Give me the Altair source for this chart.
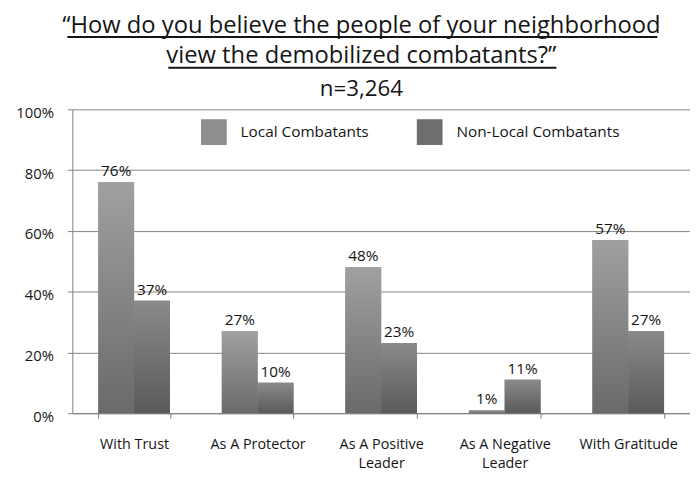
import altair as alt
import pandas as pd

# ---- data ----
CATEGORIES = ["With Trust", "As A Protector", "As A Positive Leader",
              "As A Negative Leader", "With Gratitude"]
SERIES = ["Local Combatants", "Non-Local Combatants"]
LOCAL = [0.76, 0.27, 0.48, 0.01, 0.57]
NON_LOCAL = [0.37, 0.10, 0.23, 0.11, 0.27]
Y_TICKS = [0, 0.2, 0.4, 0.6, 0.8, 1.0]
TITLE_LINES = ["\u201cHow do you believe the people of your neighborhood",
               "view the demobilized combatants?\u201d",
               "n=3,264"]

rows = []
for c, a, b in zip(CATEGORIES, LOCAL, NON_LOCAL):
    rows.append({"category": c, "series": SERIES[0], "value": a})
    rows.append({"category": c, "series": SERIES[1], "value": b})
df = pd.DataFrame(rows)

FONT = "Open Sans"
TEXT = "#151515"
SOLID = ["#8e8e8e", "#6e6e6e"]
GRADS = [("#a0a0a0", "#6a6a6a"), ("#8a8a8a", "#5a5a5a")]

x_enc = alt.X(
    "category:N", sort=CATEGORIES,
    scale=alt.Scale(paddingInner=0.42, paddingOuter=0.21),
    axis=alt.Axis(
        title=None, labelAngle=0, tickBand="extent", tickSize=5, grid=False,
        labelFont=FONT, labelFontSize=14.5, labelColor=TEXT, labelPadding=20,
        labelBaseline="top", labelLineHeight=18.5,
        labelExpr="indexof(datum.label, ' Leader') > 0 ? [replace(datum.label, ' Leader', ''), 'Leader'] : datum.label",
    ),
)
xo_enc = alt.XOffset("series:N", sort=SERIES, scale=alt.Scale(domain=SERIES))
y_enc = alt.Y(
    "value:Q", scale=alt.Scale(domain=[0, 1]),
    axis=alt.Axis(
        title=None, values=Y_TICKS, format=".0%", grid=True, tickSize=5,
        labelFont=FONT, labelFontSize=15, labelColor=TEXT, labelPadding=14,
        labelOffset=3,
    ),
)

base = alt.Chart(df).mark_bar().encode(
    x=x_enc, xOffset=xo_enc, y=y_enc,
    color=alt.Color(
        "series:N", sort=SERIES,
        scale=alt.Scale(domain=SERIES, range=SOLID),
        legend=alt.Legend(
            title=None, orient="none", legendX=130, legendY=10,
            direction="horizontal", symbolType="square", symbolSize=676,
            symbolStrokeWidth=0, symbolOpacity=1, labelFont=FONT,
            labelFontSize=15.5, labelColor=TEXT, columnPadding=48,
            labelOffset=14, padding=0, labelLimit=300,
        ),
    ),
)

grad_layers = []
for s, (top, bottom) in zip(SERIES, GRADS):
    grad_layers.append(
        alt.Chart(df).transform_filter(alt.datum.series == s).mark_bar(
            fill=alt.Gradient(
                gradient="linear",
                stops=[alt.GradientStop(color=top, offset=0),
                       alt.GradientStop(color=bottom, offset=1)],
                x1=0, x2=0, y1=0, y2=1,
            )
        ).encode(x=x_enc, xOffset=xo_enc, y=y_enc)
    )

labels = alt.Chart(df).mark_text(
    font=FONT, fontSize=15.5, color=TEXT, baseline="bottom", dy=-3
).encode(
    x=x_enc, xOffset=xo_enc, y=y_enc,
    text=alt.Text("value:Q", format=".0%"),
)

def title_line(txt, y, size):
    return alt.Chart(pd.DataFrame({"t": [txt]})).mark_text(
        font=FONT, fontSize=size, color=TEXT, align="center",
        baseline="alphabetic"
    ).encode(text="t:N", x=alt.value(292), y=alt.value(y))

def underline(x1, x2, y):
    return alt.Chart(pd.DataFrame({"u": [0]})).mark_rule(
        color=TEXT, strokeWidth=2
    ).encode(x=alt.value(x1), x2=alt.value(x2), y=alt.value(y))

title_layers = [
    title_line(TITLE_LINES[0], -77, 24),
    title_line(TITLE_LINES[1], -47, 24),
    title_line(TITLE_LINES[2], -13, 22.5),
    underline(-5, 591, -73),
    underline(97, 489, -42),
]

chart = alt.layer(base, *grad_layers, labels, *title_layers).properties(
    width=624, height=307,
    autosize=alt.AutoSizeParams(type="none"),
    padding={"left": 65, "top": 100, "right": 0, "bottom": 56},
).configure_view(stroke=None).configure_axis(
    domainColor="#808080", tickColor="#808080", gridColor="#858585",
    gridWidth=1, domainWidth=1,
)

chart.save("out.html", embed_options={"renderer": "svg", "actions": False})
